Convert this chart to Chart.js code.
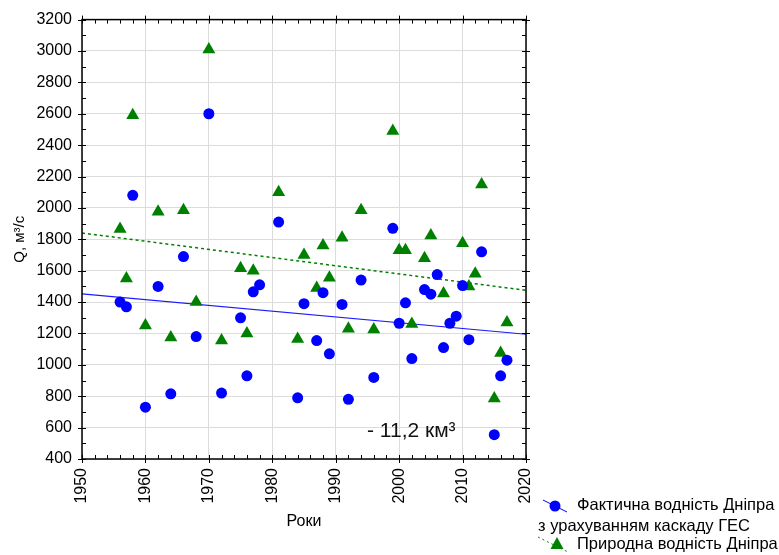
<!DOCTYPE html>
<html>
<head>
<meta charset="utf-8">
<script src="https://cdn.jsdelivr.net/npm/chart.js@4.4.1/dist/chart.umd.min.js"></script>
<style>
  body { margin: 0; background: #fff; }
  #wrap { position: relative; width: 779px; height: 555px; }
</style>
</head>
<body>
<div id="wrap"><canvas id="chart" width="779" height="555"></canvas></div>
<script>
// actual flow with the HPP cascade (circles)
const factYears = [1956, 1957, 1958, 1960, 1962, 1964, 1966, 1968, 1970, 1972, 1975, 1976, 1977, 1978,
  1981, 1984, 1985, 1987, 1988, 1989, 1991, 1992, 1994, 1996, 1999, 2000, 2001, 2002, 2004, 2005,
  2006, 2007, 2008, 2009, 2010, 2011, 2013, 2015, 2016, 2017]
const factValues = [1400, 1370, 2080, 730, 1500, 815, 1690, 1180, 2600, 820, 1300, 930, 1465, 1510,
  1910, 790, 1390, 1155, 1460, 1070, 1385, 780, 1540, 920, 1870, 1265, 1395, 1040, 1480, 1450,
  1575, 1110, 1265, 1310, 1505, 1160, 1720, 555, 930, 1030]

// natural flow (triangles)
const naturalYears = [1956, 1957, 1958, 1960, 1962, 1964, 1966, 1968, 1970, 1972, 1975, 1976, 1977,
  1981, 1984, 1985, 1987, 1988, 1989, 1991, 1992, 1994, 1996, 1999, 2000, 2001, 2002, 2004, 2005,
  2007, 2010, 2011, 2012, 2013, 2015, 2016, 2017]
const naturalValues = [1865, 1550, 2590, 1250, 1975, 1175, 1985, 1400, 3010, 1155, 1615, 1200, 1600,
  2100, 1165, 1700, 1490, 1760, 1555, 1810, 1230, 1985, 1225, 2490, 1730, 1730, 1260, 1680, 1825,
  1455, 1775, 1500, 1580, 2150, 785, 1075, 1270]

// trend lines, end points
const trendYears = [1950, 2020]
const factTrend = [1452, 1195]
const naturalTrend = [1840, 1475]

const xTitle = 'Роки'
const yTitle = 'Q, м³/с'
const note = '- 11,2 км³'
const legendLines = ['Фактична водність Дніпра', 'з урахуванням каскаду ГЕС', 'Природна водність Дніпра']

const FONT = 'Arial, "Liberation Sans", sans-serif'

function toPoints (xs, ys) {
  return xs.map((x, i) => ({ x, y: ys[i] }))
}

// frame + inward tick marks on all four sides, note, legend
const framePlugin = {
  id: 'frame',
  afterDatasetsDraw (chart) {
    const { ctx, chartArea: a, scales } = chart
    const xs = scales.x
    const ys = scales.y
    ctx.save()
    ctx.strokeStyle = '#000'
    ctx.lineWidth = 1
    ctx.beginPath()
    for (let v = 400; v <= 3200; v += 100) {
      const y = Math.round(ys.getPixelForValue(v)) + 0.5
      const major = v % 200 === 0
      ctx.moveTo(a.left - (major ? 4 : 0), y)
      ctx.lineTo(a.left + 4, y)
      ctx.moveTo(a.right + (major ? 4 : 0), y)
      ctx.lineTo(a.right - 4, y)
    }
    for (let v = 1950; v <= 2020; v += 2) {
      const x = Math.round(xs.getPixelForValue(v)) + 0.5
      const major = v % 10 === 0
      ctx.moveTo(x, a.bottom + (major ? 4 : 0))
      ctx.lineTo(x, a.bottom - 4)
      ctx.moveTo(x, a.top - (major ? 4 : 0))
      ctx.lineTo(x, a.top + 4)
    }
    ctx.stroke()
    ctx.lineWidth = 1.5
    ctx.strokeRect(a.left, a.top, a.right - a.left, a.bottom - a.top)

    ctx.fillStyle = '#111'
    ctx.font = '21px ' + FONT
    ctx.textBaseline = 'alphabetic'
    ctx.fillText(note, 367, 437)
    ctx.restore()
  },
  afterDraw (chart) {
    const { ctx } = chart
    ctx.save()
    ctx.font = '16.5px ' + FONT
    ctx.fillStyle = '#000'
    ctx.textBaseline = 'middle'
    ctx.strokeStyle = '#0000ff'
    ctx.lineWidth = 1
    ctx.beginPath()
    ctx.moveTo(543, 500)
    ctx.lineTo(567, 512)
    ctx.stroke()
    ctx.fillStyle = '#0000ff'
    ctx.beginPath()
    ctx.arc(555, 506, 5.5, 0, Math.PI * 2)
    ctx.fill()
    ctx.fillStyle = '#000'
    ctx.fillText(legendLines[0], 577, 505)
    ctx.fillText(legendLines[1], 538, 526)
    ctx.strokeStyle = '#008000'
    ctx.setLineDash([2, 3])
    ctx.beginPath()
    ctx.moveTo(538, 537)
    ctx.lineTo(568, 552)
    ctx.stroke()
    ctx.setLineDash([])
    ctx.fillStyle = '#008000'
    ctx.beginPath()
    ctx.moveTo(557, 537)
    ctx.lineTo(563.5, 549)
    ctx.lineTo(550.5, 549)
    ctx.closePath()
    ctx.fill()
    ctx.fillStyle = '#000'
    ctx.fillText(legendLines[2], 577, 544)
    ctx.restore()
  }
}

const ctx = document.getElementById('chart').getContext('2d')
const chart = new Chart(ctx, {
  type: 'scatter',
  data: {
    datasets: [
      {
        label: legendLines[0],
        data: toPoints(factYears, factValues),
        pointStyle: 'circle',
        pointRadius: 5.5,
        backgroundColor: '#0000ff',
        borderColor: '#0000ff',
        borderWidth: 0
      },
      {
        label: legendLines[2],
        data: toPoints(naturalYears, naturalValues),
        pointStyle: 'triangle',
        pointRadius: 7.5,
        backgroundColor: '#008000',
        borderColor: '#008000',
        borderWidth: 0
      },
      {
        type: 'line',
        data: toPoints(trendYears, factTrend),
        borderColor: '#1a1aff',
        borderWidth: 1.2,
        pointRadius: 0
      },
      {
        type: 'line',
        data: toPoints(trendYears, naturalTrend),
        borderColor: '#008000',
        borderWidth: 1.5,
        borderDash: [3, 3],
        pointRadius: 0
      }
    ]
  },
  options: {
    responsive: false,
    animation: false,
    layout: { padding: { top: 19, right: 253, left: 0, bottom: 0 } },
    plugins: {
      legend: { display: false },
      tooltip: { enabled: false }
    },
    scales: {
      x: {
        type: 'linear',
        min: 1950,
        max: 2020,
        afterFit: (s) => { s.height = 96 },
        ticks: {
          stepSize: 10,
          minRotation: 90,
          maxRotation: 90,
          padding: 9,
          color: '#000',
          font: { family: FONT, size: 16 },
          callback: (v) => String(v)
        },
        grid: { color: '#dcdcdc', lineWidth: 1, drawTicks: false },
        border: { display: false },
        title: {
          display: true,
          text: xTitle,
          color: '#000',
          font: { family: FONT, size: 16 },
          padding: { top: 0, bottom: 24 }
        }
      },
      y: {
        min: 400,
        max: 3200,
        afterFit: (s) => { s.width = 82 },
        ticks: {
          stepSize: 200,
          padding: 10,
          color: '#000',
          font: { family: FONT, size: 16 },
          callback: (v) => String(v)
        },
        grid: { color: '#dcdcdc', lineWidth: 1, drawTicks: false },
        border: { display: false },
        title: {
          display: true,
          text: yTitle,
          color: '#000',
          font: { family: FONT, size: 15 },
          padding: { top: 11, bottom: 0 }
        }
      }
    }
  },
  plugins: [framePlugin]
})
</script>
</body>
</html>
